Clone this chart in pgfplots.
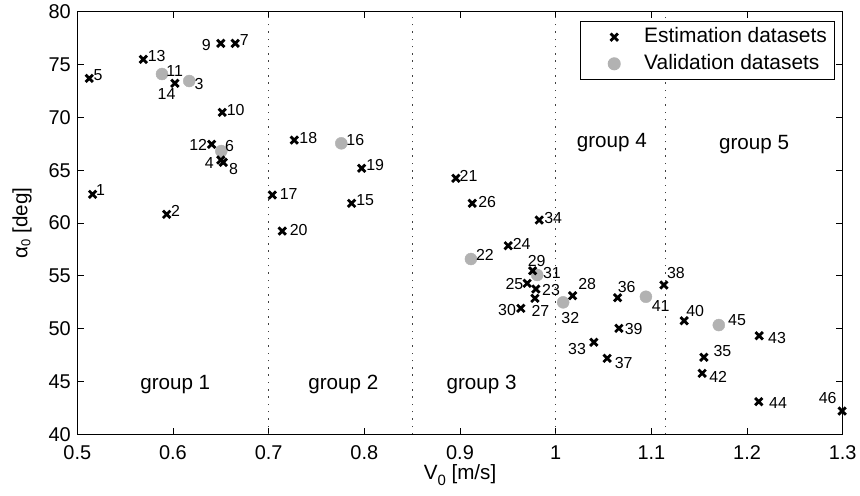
\documentclass[border=0pt]{standalone}
\usepackage{fontspec}
\setmainfont{Liberation Sans}
\usepackage{pgfplots}
\usepackage{pgfplotstable}
\pgfplotsset{compat=1.18}
\definecolor{valgray}{rgb}{0.7,0.7,0.7}
% label placed with its centre at (#1 bp, #2 bp) from the data point
\protected\def\lab#1#2#3{\raisebox{\dimexpr #2bp-5.73bp\relax}[0pt][0pt]{\makebox[0pt]{\hspace*{\dimexpr #1bp*2\relax}#3}}}

\pgfplotstableread{
x y lab
0.516 62.71 \lab{8}{4.3}{1}
0.5934 60.82 \lab{8.8}{3.5}{2}
0.650 65.96 \lab{-11.5}{-2.5}{4}
0.5125 73.69 \lab{8.9}{3.3}{5}
0.665 77.0 \lab{9.2}{4.1}{7}
0.6526 65.74 \lab{10.2}{-6.9}{8}
0.650 77.0 \lab{-14.5}{-1.2}{9}
0.6515 70.47 \lab{13.5}{3.1}{10}
0.6404 67.45 \lab{-13.4}{-0.7}{12}
0.569 75.49 \lab{13.4}{3.4}{13}
0.602 73.22 \lab{-8.3}{-10.4}{14}
0.7867 61.86 \lab{13.6}{3.8}{15}
0.7038 62.65 \lab{16.4}{0.8}{17}
0.7268 67.85 \lab{14}{2.5}{18}
0.7972 65.18 \lab{13.6}{3.8}{19}
0.7142 59.24 \lab{16.4}{1}{20}
0.8957 64.23 \lab{12.7}{2.8}{21}
0.9793 53.75 \lab{15.2}{-0.7}{23}
0.9504 57.85 \lab{13.4}{2.4}{24}
0.9702 54.29 \lab{-12.8}{-0.5}{25}
0.9128 61.86 \lab{14.9}{1.1}{26}
0.9783 52.87 \lab{5.5}{-12.5}{27}
1.0177 53.12 \lab{14.5}{11.5}{28}
0.9759 55.48 \lab{4}{10.4}{29}
0.9636 51.92 \lab{-13.8}{-1.4}{30}
1.0399 48.71 \lab{-16.8}{-6.5}{33}
0.9828 60.28 \lab{14}{2.2}{34}
1.1549 47.29 \lab{18.5}{6.5}{35}
1.0647 52.93 \lab{9.1}{11}{36}
1.0538 47.19 \lab{16.5}{-4.7}{37}
1.1131 54.13 \lab{12}{12}{38}
1.0661 50.03 \lab{14.8}{-0.5}{39}
1.1343 50.75 \lab{11}{10.4}{40}
1.1531 45.77 \lab{16}{-3.7}{42}
1.2127 49.33 \lab{17.9}{-2.3}{43}
1.2123 43.09 \lab{19.3}{-0.8}{44}
1.2994 42.2 \lab{-14.5}{13.2}{46}
}\estim

\pgfplotstableread{
x y lab
0.617 73.44 \lab{9.9}{-2.7}{3}
0.6505 66.81 \lab{8.2}{5.2}{6}
0.5885 74.10 \lab{12.7}{3.2}{11}
0.7759 67.54 \lab{14}{3.3}{16}
0.9114 56.59 \lab{14}{4}{22}
0.9807 55.08 \lab{14.7}{2}{31}
1.0078 52.49 \lab{7.2}{-15.5}{32}
1.0943 53.02 \lab{14.8}{-9.1}{41}
1.1705 50.34 \lab{18.2}{5.3}{45}
}\valid

\begin{document}
\begin{tikzpicture}
\begin{axis}[
  scale only axis, width=765.4bp, height=422.6bp,
  xmin=0.5, xmax=1.3, ymin=40, ymax=80,
  xtick={0.5,0.6,0.7,0.8,0.9,1.0,1.1,1.2,1.3},
  xticklabels={0.5,0.6,0.7,0.8,0.9,1,1.1,1.2,1.3},
  ytick={40,45,50,55,60,65,70,75,80},
  /pgf/number format/assume math mode=true,
  tick label style={font=\fontsize{20}{24}\selectfont},
  x tick label style={anchor=base, yshift=-25bp},
  y tick label style={anchor=east, xshift=-3bp},
  tick align=inside,
  major tick length=6.7bp,
  every tick/.style={black, line width=0.9bp},
  axis line style={line width=1bp},
  every axis x label/.style={at={(axis description cs:0.5,-0.1081)}, anchor=base, font=\fontsize{20.7}{24}\selectfont},
  every axis y label/.style={at={(axis description cs:-0.0651,0.5)}, rotate=90, anchor=base, font=\fontsize{20.7}{24}\selectfont},
  xlabel={V\raisebox{-6bp}{\fontsize{15}{17}\selectfont 0} [m/s]},
  ylabel={α\raisebox{-3bp}{\fontsize{13}{15}\selectfont 0} [deg]},
  legend image code/.code={\path[draw=none, fill=none] (0bp,-5bp) rectangle (55.7bp,5bp); \draw[#1] plot coordinates {(25.7bp,0bp)};},
  legend style={at={(axis description cs:0.98994,0.97717)}, anchor=north east, draw=black, line width=1bp, fill=white,
    inner xsep=7.7bp, inner ysep=5.6bp, row sep=7.1bp, column sep=0bp,
    font=\fontsize{21}{24}\selectfont,
    nodes={inner sep=0bp, text height=15bp, text depth=4.5bp}},
  legend cell align=left,
]
\addlegendimage{only marks, mark=x, mark size=5.2bp, color=black, mark options={line width=2.8bp}}
\addlegendentry{Estimation datasets}
\addlegendimage{only marks, mark=*, mark size=6bp, color=valgray, mark options={draw=none, fill=valgray}}
\addlegendentry{Validation datasets}

\addplot[forget plot, draw=black!75, line width=1bp, dash pattern=on 1.5bp off 5.8bp] coordinates {(0.7,40) (0.7,80)};
\addplot[forget plot, draw=black!75, line width=1bp, dash pattern=on 1.5bp off 5.8bp] coordinates {(0.85,40) (0.85,80)};
\addplot[forget plot, draw=black!75, line width=1bp, dash pattern=on 1.5bp off 5.8bp] coordinates {(1.0,40) (1.0,80)};
\addplot[forget plot, draw=black!75, line width=1bp, dash pattern=on 1.5bp off 5.8bp] coordinates {(1.115,40) (1.115,80)};

\addplot[forget plot, only marks, mark=*, mark size=6bp, color=valgray, mark options={draw=none, fill=valgray},
  nodes near coords, point meta=explicit symbolic,
  nodes near coords align={center},
  every node near coord/.append style={font=\fontsize{16}{18}\selectfont, text=black, inner sep=0bp, anchor=center}]
  table[x=x, y=y, meta=lab]{\valid};

\addplot[forget plot, only marks, mark=x, mark size=5.2bp, color=black, mark options={line width=2.8bp},
  nodes near coords, point meta=explicit symbolic,
  nodes near coords align={center},
  every node near coord/.append style={font=\fontsize{16}{18}\selectfont, text=black, inner sep=0bp, anchor=center}]
  table[x=x, y=y, meta=lab]{\estim};

\node[anchor=base, font=\fontsize{20.7}{24}\selectfont] at (axis cs:0.6024,44.2) {group 1};
\node[anchor=base, font=\fontsize{20.7}{24}\selectfont] at (axis cs:0.778,44.2) {group 2};
\node[anchor=base, font=\fontsize{20.7}{24}\selectfont] at (axis cs:0.9226,44.2) {group 3};
\node[anchor=base, font=\fontsize{20.7}{24}\selectfont] at (axis cs:1.0587,67.12) {group 4};
\node[anchor=base, font=\fontsize{20.7}{24}\selectfont] at (axis cs:1.2074,66.98) {group 5};

\coordinate (bl) at (rel axis cs:0,0);
\coordinate (tr) at (rel axis cs:1,1);
\end{axis}
\pgfresetboundingbox
\path ([xshift=-77.3bp,yshift=-60.7bp]bl) rectangle ([xshift=17.3bp,yshift=11.7bp]tr);
\end{tikzpicture}
\end{document}
